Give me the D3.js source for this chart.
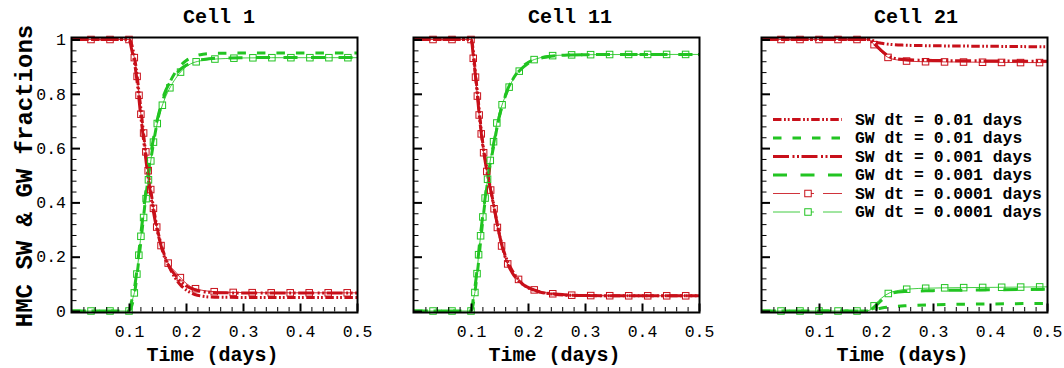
<!DOCTYPE html>
<html>
<head>
<meta charset="utf-8">
<script src="https://cdn.jsdelivr.net/npm/d3@7"></script>
<style>
  html, body { margin: 0; padding: 0; background: #fff; }
  svg { display: block; }
  text { font-family: "Liberation Mono", "Courier New", monospace; fill: #000; }
</style>
</head>
<body>
<svg id="chart" width="1064" height="368"></svg>
<script>
// ---------- data ----------
const cellTitles = ["Cell 1", "Cell 11", "Cell 21"];
const xTickValues = [0.1, 0.2, 0.3, 0.4, 0.5];
const yTickValues = [0, 0.2, 0.4, 0.6, 0.8, 1];
const legendLabels = [
  "SW dt = 0.01 days",
  "GW dt = 0.01 days",
  "SW dt = 0.001 days",
  "GW dt = 0.001 days",
  "SW dt = 0.0001 days",
  "GW dt = 0.0001 days"
];

// Cell 1
const cell1TimeDt01 = [0, 0.1, 0.11, 0.12, 0.13, 0.14, 0.15, 0.16, 0.17, 0.18, 0.19, 0.2, 0.21, 0.22, 0.23, 0.25, 0.3, 0.4, 0.5];
const cell1SWDt01   = [1, 1, 0.93, 0.76, 0.57, 0.42, 0.3, 0.22, 0.165, 0.125, 0.097, 0.078, 0.066, 0.058, 0.054, 0.051, 0.05, 0.05, 0.05];
const cell1GWDt01   = [0, 0, 0.07, 0.24, 0.43, 0.58, 0.7, 0.78, 0.835, 0.875, 0.903, 0.922, 0.934, 0.942, 0.946, 0.949, 0.95, 0.95, 0.95];
const cell1TimeDt001 = [0, 0.1, 0.105, 0.11, 0.115, 0.12, 0.125, 0.13, 0.135, 0.14, 0.147, 0.155, 0.162, 0.17, 0.18, 0.19, 0.2, 0.21, 0.225, 0.24, 0.27, 0.3, 0.4, 0.5];
const cell1SWDt001   = [1, 1, 0.96, 0.91, 0.83, 0.73, 0.64, 0.55, 0.47, 0.4, 0.32, 0.25, 0.2, 0.165, 0.135, 0.11, 0.093, 0.082, 0.073, 0.069, 0.067, 0.066, 0.066, 0.066];
const cell1GWDt001   = [0, 0, 0.04, 0.09, 0.17, 0.27, 0.36, 0.45, 0.53, 0.6, 0.68, 0.75, 0.8, 0.835, 0.865, 0.89, 0.905, 0.915, 0.925, 0.929, 0.932, 0.933, 0.934, 0.934];
const cell1TimeDt0001 = [0, 0.1, 0.105, 0.111, 0.116, 0.12, 0.126, 0.131, 0.136, 0.142, 0.149, 0.155, 0.161, 0.17, 0.182, 0.195, 0.208, 0.224, 0.24, 0.27, 0.3, 0.35, 0.4, 0.45, 0.5];
const cell1SWDt0001   = [1, 1, 0.965, 0.915, 0.83, 0.74, 0.65, 0.56, 0.48, 0.39, 0.305, 0.25, 0.21, 0.172, 0.143, 0.112, 0.09, 0.078, 0.073, 0.069, 0.068, 0.067, 0.067, 0.067, 0.067];
const cell1GWDt0001   = [0, 0, 0.035, 0.086, 0.18, 0.26, 0.35, 0.43, 0.515, 0.61, 0.685, 0.735, 0.772, 0.815, 0.857, 0.89, 0.91, 0.921, 0.926, 0.93, 0.932, 0.933, 0.933, 0.933, 0.933];

// Cell 11
const cell11TimeDt01 = [0, 0.1, 0.11, 0.12, 0.13, 0.14, 0.15, 0.16, 0.17, 0.18, 0.19, 0.2, 0.22, 0.24, 0.27, 0.3, 0.4, 0.5];
const cell11SWDt01   = [1, 1, 0.83, 0.63, 0.5, 0.39, 0.28, 0.205, 0.158, 0.125, 0.1, 0.086, 0.07, 0.063, 0.058, 0.057, 0.056, 0.056];
const cell11GWDt01   = [0, 0, 0.12, 0.32, 0.49, 0.61, 0.72, 0.79, 0.84, 0.875, 0.9, 0.915, 0.931, 0.938, 0.943, 0.944, 0.945, 0.945];
const cell11TimeDt001 = [0, 0.1, 0.105, 0.11, 0.115, 0.12, 0.125, 0.13, 0.135, 0.14, 0.147, 0.155, 0.163, 0.172, 0.185, 0.2, 0.22, 0.24, 0.27, 0.3, 0.4, 0.5];
const cell11SWDt001   = [1, 1, 0.92, 0.82, 0.71, 0.62, 0.55, 0.49, 0.44, 0.385, 0.31, 0.235, 0.18, 0.142, 0.108, 0.087, 0.071, 0.064, 0.059, 0.057, 0.056, 0.056];
const cell11GWDt001   = [0, 0, 0.06, 0.14, 0.25, 0.34, 0.42, 0.5, 0.56, 0.62, 0.69, 0.76, 0.81, 0.85, 0.885, 0.912, 0.93, 0.938, 0.943, 0.944, 0.945, 0.945];
const cell11TimeDt0001 = [0, 0.1, 0.104, 0.109, 0.113, 0.117, 0.121, 0.125, 0.13, 0.135, 0.141, 0.147, 0.153, 0.159, 0.167, 0.176, 0.19, 0.203, 0.22, 0.235, 0.27, 0.3, 0.4, 0.5];
const cell11SWDt0001   = [1, 1, 0.93, 0.84, 0.75, 0.67, 0.6, 0.545, 0.49, 0.44, 0.37, 0.3, 0.245, 0.2, 0.163, 0.134, 0.104, 0.085, 0.072, 0.066, 0.059, 0.057, 0.056, 0.056];
const cell11GWDt0001   = [0, 0, 0.04, 0.1, 0.2, 0.28, 0.35, 0.42, 0.5, 0.57, 0.64, 0.71, 0.75, 0.785, 0.825, 0.86, 0.895, 0.918, 0.932, 0.939, 0.943, 0.944, 0.945, 0.945];

// Cell 21
const cell21TimeDt01 = [0, 0.19, 0.2, 0.21, 0.22, 0.23, 0.25, 0.3, 0.4, 0.5];
const cell21SWDt01   = [1, 1, 0.99, 0.986, 0.983, 0.981, 0.979, 0.977, 0.975, 0.973];
const cell21GWDt01   = [0, 0, 0.007, 0.011, 0.014, 0.016, 0.019, 0.023, 0.026, 0.028];
const cell21TimeDt001 = [0, 0.185, 0.19, 0.2, 0.21, 0.22, 0.23, 0.25, 0.3, 0.4, 0.5];
const cell21SWDt001   = [1, 1, 0.996, 0.978, 0.958, 0.942, 0.932, 0.926, 0.923, 0.921, 0.92];
const cell21GWDt001   = [0, 0, 0.004, 0.02, 0.04, 0.057, 0.067, 0.072, 0.075, 0.078, 0.08];
const cell21TimeDt0001 = [0, 0.18, 0.19, 0.195, 0.2, 0.21, 0.223, 0.24, 0.258, 0.29, 0.35, 0.4, 0.45, 0.5];
const cell21SWDt0001   = [1, 1, 0.996, 0.985, 0.972, 0.952, 0.932, 0.924, 0.92, 0.918, 0.917, 0.916, 0.915, 0.915];
const cell21GWDt0001   = [0, 0, 0.004, 0.015, 0.028, 0.048, 0.066, 0.076, 0.081, 0.084, 0.086, 0.087, 0.088, 0.089];

// ---------- layout & styles ----------
const panelLeft = [72, 414, 762];
const plotW = 285;
const boxTop = 37.5, boxBottom = 312.5;
const yTop = 39.5, yBottom = 311;
const titleX = [219, 570, 916];
const RED = "#c8101a";
const GREEN = "#22c422";

// one style per legend entry, in legend order
const seriesStyles = [
  { color: RED,   width: 3, dash: "8.5 2.5 1.8 2 1.8 2.5" },
  { color: GREEN, width: 3, dash: "8.5 11" },
  { color: RED,   width: 3, dash: "16 3.5 2 2.5 2 2.5" },
  { color: GREEN, width: 3, dash: "14 13.5" },
  { color: RED,   width: 1, dash: null, marker: true },
  { color: GREEN, width: 1, dash: null, marker: true }
];

const zip = (t, v) => t.map((d, i) => [d, v[i]]);
const cells = [
  [zip(cell1TimeDt01, cell1SWDt01), zip(cell1TimeDt01, cell1GWDt01),
   zip(cell1TimeDt001, cell1SWDt001), zip(cell1TimeDt001, cell1GWDt001),
   zip(cell1TimeDt0001, cell1SWDt0001), zip(cell1TimeDt0001, cell1GWDt0001)],
  [zip(cell11TimeDt01, cell11SWDt01), zip(cell11TimeDt01, cell11GWDt01),
   zip(cell11TimeDt001, cell11SWDt001), zip(cell11TimeDt001, cell11GWDt001),
   zip(cell11TimeDt0001, cell11SWDt0001), zip(cell11TimeDt0001, cell11GWDt0001)],
  [zip(cell21TimeDt01, cell21SWDt01), zip(cell21TimeDt01, cell21GWDt01),
   zip(cell21TimeDt001, cell21SWDt001), zip(cell21TimeDt001, cell21GWDt001),
   zip(cell21TimeDt0001, cell21SWDt0001), zip(cell21TimeDt0001, cell21GWDt0001)]
];

const svg = d3.select("#chart");
const y = d3.scaleLinear().domain([0, 1]).range([yBottom, yTop]);
const markerStep = 19;
const markerSize = 6.5;

const xMinor = d3.range(1, 25).map(k => k * 0.02).filter(v => Math.abs(v * 10 - Math.round(v * 10)) > 1e-6);
const yMinor = d3.range(1, 25).map(k => k * 0.04).filter(v => Math.abs(v * 5 - Math.round(v * 5)) > 1e-6);

function drawMarkers(g, pathNode, color, start) {
  const len = pathNode.getTotalLength();
  for (let s = start; s < len - 2; s += markerStep) {
    const p = pathNode.getPointAtLength(s);
    g.append("rect")
      .attr("x", p.x - markerSize / 2).attr("y", p.y - markerSize / 2)
      .attr("width", markerSize).attr("height", markerSize)
      .attr("fill", "none").attr("stroke", color).attr("stroke-width", 1);
  }
}

cells.forEach((series, i) => {
  const L = panelLeft[i];
  const x = d3.scaleLinear().domain([0, 0.5]).range([L, L + plotW]);
  const g = svg.append("g");

  const clipId = "clip" + i;
  svg.append("defs").append("clipPath").attr("id", clipId)
    .append("rect").attr("x", L).attr("y", boxTop).attr("width", plotW).attr("height", boxBottom - boxTop);

  const line = d3.line().x(d => x(d[0])).y(d => y(d[1])).curve(d3.curveMonotoneX);

  const curves = g.append("g").attr("clip-path", `url(#${clipId})`);
  const markers = g.append("g");
  series.forEach((pts, k) => {
    const st = seriesStyles[k];
    const p = curves.append("path")
      .attr("d", line(pts))
      .attr("fill", "none")
      .attr("stroke", st.color)
      .attr("stroke-width", st.width)
      .attr("stroke-dasharray", st.dash)
      .attr("opacity", st.marker ? 0.85 : 1);
    if (st.marker) drawMarkers(markers, p.node(), st.color, markerStep);
  });

  // x axis ticks (inward)
  const xAxisMajor = d3.axisBottom(x).tickValues(xTickValues)
    .tickSizeInner(-8).tickSizeOuter(0).tickPadding(13.5)
    .tickFormat(d3.format(".1f"));
  const gx = g.append("g").attr("transform", `translate(0,${boxBottom - 1})`).call(xAxisMajor);
  gx.select(".domain").remove();
  gx.selectAll(".tick line").attr("stroke-width", 2);
  gx.selectAll("text").attr("font-size", 16.5).attr("font-family", "Liberation Mono");

  const gxm = g.append("g").attr("transform", `translate(0,${boxBottom - 1})`)
    .call(d3.axisBottom(x).tickValues(xMinor).tickSizeInner(-4.5).tickSizeOuter(0).tickFormat(""));
  gxm.select(".domain").remove();

  // y axis ticks (inward); labels only on the first panel
  const yAxisMajor = d3.axisLeft(y).tickValues(yTickValues)
    .tickSizeInner(-8).tickSizeOuter(0).tickPadding(6)
    .tickFormat(i === 0 ? d => String(+d.toFixed(1)) : "");
  const gy = g.append("g").attr("transform", `translate(${L},0)`).call(yAxisMajor);
  gy.select(".domain").remove();
  gy.selectAll(".tick line").attr("stroke-width", 2);
  gy.selectAll("text").attr("font-size", 16.5).attr("font-family", "Liberation Mono");

  const gym = g.append("g").attr("transform", `translate(${L},0)`)
    .call(d3.axisLeft(y).tickValues(yMinor).tickSizeInner(-4.5).tickSizeOuter(0).tickFormat(""));
  gym.select(".domain").remove();

  // frame
  g.append("rect")
    .attr("x", L - 0.5).attr("y", boxTop)
    .attr("width", plotW + 1).attr("height", boxBottom - boxTop)
    .attr("fill", "none").attr("stroke", "#000").attr("stroke-width", 2);

  // panel title
  g.append("text").attr("x", titleX[i]).attr("y", 23)
    .attr("text-anchor", "middle").attr("font-size", 20).attr("font-weight", "bold")
    .text(cellTitles[i]);

  // x axis title
  g.append("text").attr("x", L + plotW / 2 - 2).attr("y", 361)
    .attr("text-anchor", "middle").attr("font-size", 20).attr("font-weight", "bold")
    .text("Time (days)");

  // legend in the last panel
  if (i === 2) {
    const lg = g.append("g");
    legendLabels.forEach((lab, k) => {
      const st = seriesStyles[k];
      const cy = 119.5 + k * 18.5;
      const x1 = L + 11, x2 = L + 80;
      lg.append("line")
        .attr("x1", x1).attr("x2", x2).attr("y1", cy).attr("y2", cy)
        .attr("stroke", st.color).attr("stroke-width", st.width)
        .attr("stroke-dasharray", st.marker ? "27 11 3 9 19 20" : st.dash)
        .attr("opacity", st.marker ? 0.85 : 1);
      if (st.marker) {
        lg.append("rect")
          .attr("x", x1 + 35 - markerSize / 2).attr("y", cy - markerSize / 2)
          .attr("width", markerSize).attr("height", markerSize)
          .attr("fill", "none").attr("stroke", st.color).attr("stroke-width", 1);
      }
      lg.append("text").attr("x", L + 93).attr("y", cy + 5)
        .attr("font-size", 16.4).attr("font-weight", "bold")
        .text(lab);
    });
  }
});

// shared y axis title
svg.append("text")
  .attr("transform", "translate(31.5,176) rotate(-90)")
  .attr("text-anchor", "middle").attr("font-size", 24).attr("font-weight", "bold")
  .text("HMC SW & GW fractions");
</script>
</body>
</html>
